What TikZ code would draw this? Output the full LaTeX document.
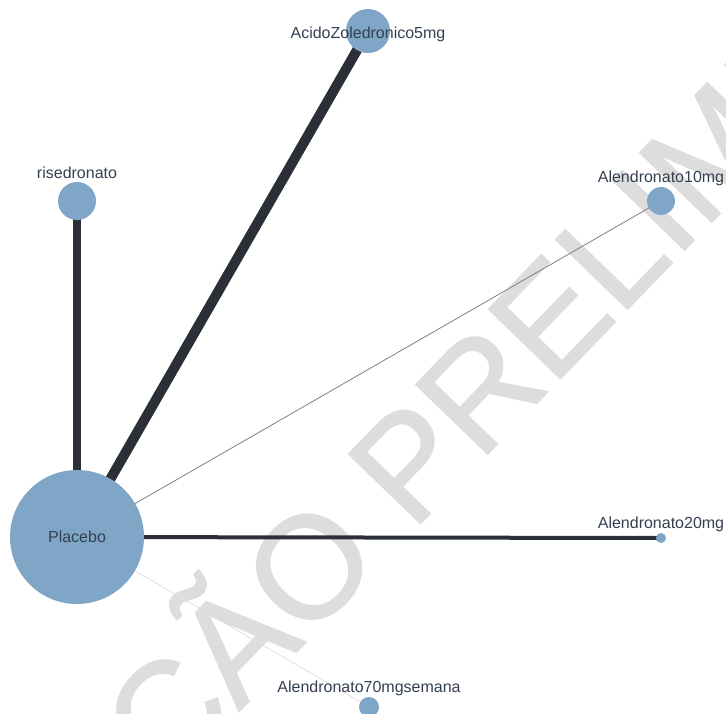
\documentclass[tikz,border=0pt]{standalone}
\usepackage{fontspec}
\setmainfont{Liberation Sans}
\newfontfamily\stampfont[FakeBold=1.2]{Liberation Sans}
\usetikzlibrary{positioning}
\definecolor{nodeblue}{RGB}{128,166,199}
\definecolor{edgedark}{RGB}{43,47,54}
\definecolor{labelgray}{RGB}{52,64,80}
\definecolor{watergray}{RGB}{221,221,221}
\pgfdeclarelayer{stamplayer}
\pgfdeclarelayer{linklayer}
\pgfsetlayers{stamplayer,linklayer,main}
\tikzset{treatment/.style={
    % The shape:
    circle,
    inner sep=0pt,
    % The filling:
    fill=nodeblue,
    % Font
    font=\fontsize{16}{16}\selectfont,
    text=labelgray,
    },
    druglabel/.style={
    inner sep=0pt,
    font=\fontsize{16}{16}\selectfont,
    text=labelgray,
    },
    link/.style={
    draw=edgedark,
    line cap=butt,
    },
    watermark/.style={
    inner sep=0pt,
    font=\stampfont\fontsize{145}{145}\selectfont,
    text=watergray,
    },
}

\begin{document}
\begin{tikzpicture}[x=1pt,y=-1pt, node distance = 1pt]
    \useasboundingbox (0,0) rectangle (726,713);

    \node (placebo) [treatment,minimum size=134pt] at (77,537)  {Placebo};
    \node (rised)   [treatment,minimum size=38pt]  at (77,201)  {};
    \node (zoled)   [treatment,minimum size=44pt]  at (368,31)  {};
    \node (alen10)  [treatment,minimum size=28pt]  at (661,201) {};
    \node (alen20)  [treatment,minimum size=10pt]  at (661,538) {};
    \node (alen70)  [treatment,minimum size=20pt]  at (369,707) {};

    \node (risedlbl)  [druglabel,above=3pt of rised]   {risedronato};
    \node (zoledlbl)  [druglabel,yshift=-3pt] at (zoled) {AcidoZoledronico5mg};
    \node (alen10lbl) [druglabel,above=of alen10]      {Alendronato10mg};
    \node (alen20lbl) [druglabel,above=of alen20]      {Alendronato20mg};
    \node (alen70lbl) [druglabel,above=of alen70]      {Alendronato70mgsemana};

    \begin{pgfonlayer}{linklayer}
    \path (placebo.center) edge[link,line width=8.5pt] (rised.center);
    \path (placebo.center) edge[link,line width=10pt] (zoled.center);
    \path (placebo.center) edge[draw=black!50,line width=0.8pt] (alen10.center);
    \path (placebo.center) edge[link,line width=4pt] (alen20.center);
    \path (placebo.center) edge[draw=black!12,line width=0.8pt] (alen70.center);
    \end{pgfonlayer}

    \begin{pgfonlayer}{stamplayer}
      \clip (0,0) rectangle (726,713);
      \node (stamp) [watermark,rotate=46,anchor=base west] at (166,787) {ÇÃO PRELIMINAR};
    \end{pgfonlayer}
\end{tikzpicture}
\end{document}
